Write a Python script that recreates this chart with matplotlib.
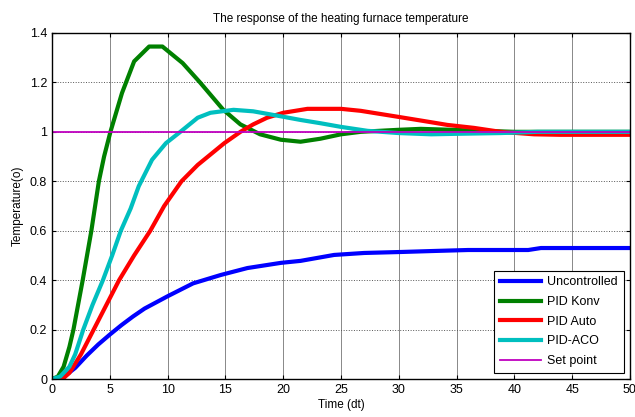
import matplotlib
matplotlib.use('Agg')
import matplotlib.pyplot as plt

plt.rcParams['font.family'] = ['Liberation Sans', 'DejaVu Sans']

# Uncontrolled plant response
t_unc = [0, 0.9, 2, 3, 4, 5, 6, 7, 8, 9, 10, 12.2, 14.6, 16.9, 19.8, 21.5,
         24.4, 27, 30.2, 33, 36, 41.2, 42.3, 50]
y_unc = [0, 0.005, 0.045, 0.095, 0.14, 0.18, 0.218, 0.253, 0.285, 0.31, 0.335,
         0.387, 0.421, 0.449, 0.470, 0.478, 0.502, 0.51, 0.514, 0.518, 0.522,
         0.522, 0.53, 0.53]

# Conventional PID
t_konv = [0, 0.5, 1, 1.5, 1.85, 2.65, 3.4, 4.05, 4.5, 5.05, 6.05, 7.1, 8.4, 9.55,
          11.3, 12.8, 14.8, 16.3, 18, 19.8, 21.5, 23.2, 25, 26.7, 29.9, 31.9,
          34.7, 40, 45, 50]
y_konv = [0, 0.01, 0.05, 0.13, 0.2, 0.4, 0.6, 0.8, 0.9, 1.0, 1.157, 1.285,
          1.345, 1.345, 1.278, 1.2, 1.09, 1.03, 0.99, 0.968, 0.96, 0.972, 0.99,
          1.0, 1.008, 1.012, 1.008, 1.0, 1.0, 1.0]

# Auto-tuned PID
t_auto = [0, 0.9, 1.5, 2.5, 3.6, 4.7, 5.8, 7.1, 8.5, 9.7, 11.2, 12.6, 14.9,
          16.3, 17.4, 18.6, 20, 22.1, 25, 26.7, 29.9, 32, 34.2, 36.5, 38.8,
          41.7, 44, 50]
y_auto = [0, 0, 0.025, 0.1, 0.2, 0.3, 0.4, 0.5, 0.6, 0.7, 0.8, 0.866, 0.954,
          1.0, 1.03, 1.057, 1.077, 1.093, 1.093, 1.085, 1.061, 1.045, 1.028,
          1.016, 1.0, 0.99, 0.988, 0.988]

# ACO-tuned PID
t_aco = [0, 0.7, 1.5, 2, 2.7, 3.5, 4.4, 5.2, 5.95, 6.8, 7.5, 8.65, 9.85, 11.1,
         12.6, 13.7, 15.7, 17.4, 18.6, 20, 21.5, 23.2, 25, 27.3, 30, 32.8, 35,
         38.8, 42, 50]
y_aco = [0, 0.01, 0.05, 0.1, 0.2, 0.3, 0.4, 0.5, 0.6, 0.69, 0.78, 0.887, 0.954,
         1.0, 1.057, 1.077, 1.089, 1.083, 1.073, 1.061, 1.048, 1.035, 1.02,
         1.004, 0.995, 0.99, 0.992, 0.995, 1.0, 1.0]

t_set = [0, 50]
y_set = [1, 1]

fig = plt.figure(figsize=(6.35, 4.17), dpi=100)
ax = fig.add_axes([0.082, 0.091, 0.910, 0.830])

ax.plot(t_unc, y_unc, color='#0000ff', lw=3, label='Uncontrolled')
ax.plot(t_konv, y_konv, color='#008000', lw=3, label='PID Konv')
ax.plot(t_auto, y_auto, color='#ff0000', lw=3, label='PID Auto')
ax.plot(t_aco, y_aco, color='#00bfbf', lw=3, label='PID-ACO')
ax.plot(t_set, y_set, color='#bf00bf', lw=1.3, label='Set point')

ax.set_xlim(0, 50)
ax.set_ylim(0, 1.4)
ax.set_xticks(range(0, 51, 5))
ax.set_yticks([0, 0.2, 0.4, 0.6, 0.8, 1, 1.2, 1.4])
ax.set_yticklabels(['0', '0.2', '0.4', '0.6', '0.8', '1', '1.2', '1.4'])
ax.xaxis.grid(True, color='#888888', lw=0.7, ls='-')
ax.yaxis.grid(True, color='#555555', lw=0.7, ls=':')
ax.set_axisbelow(True)
ax.tick_params(direction='in', top=True, right=True, labelsize=9, length=3)
for s in ax.spines.values():
    s.set_linewidth(1.0)

ax.set_title('The response of the heating furnace temperature', fontsize=8.5, pad=8)
ax.set_xlabel('Time (dt)', fontsize=8.5, labelpad=2)
ax.set_ylabel('Temperature(o)', fontsize=8.5, labelpad=4)

leg = ax.legend(loc='lower right', fontsize=9, fancybox=False, edgecolor='black',
                framealpha=1, handlelength=3.3, handletextpad=0.5,
                borderaxespad=0.5, labelspacing=0.62, borderpad=0.45)
leg.get_frame().set_linewidth(0.8)

plt.savefig('out.png', dpi=100)
plt.close()
